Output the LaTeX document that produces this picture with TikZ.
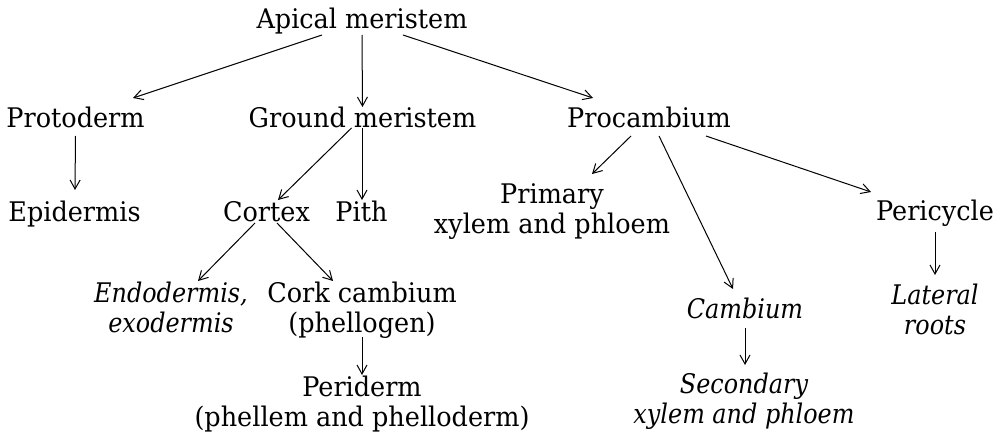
\documentclass[tikz,border=0pt]{standalone}
\usepackage{fontspec}
\setmainfont{DejaVu Serif}[FakeStretch=0.945,ItalicFeatures={FakeStretch=0.885}]
\usetikzlibrary{arrows.meta}
\begin{document}
\begin{tikzpicture}[x=1pt,y=-1pt,
  lbl/.style={inner sep=0pt, anchor=base, align=center, font=\fontsize{27}{30}\selectfont},
  itl/.style={lbl, font=\fontsize{27}{30}\selectfont\itshape},
  arr/.style={line width=1pt, -{Straight Barb[length=9pt,width=10pt]}}]
\useasboundingbox (0,0) rectangle (1003,438);
\node[lbl] (apical) at (362,29) {Apical meristem};
\node[lbl] (proto) at (75.5,128) {Protoderm};
\node[lbl] (ground) at (362.5,128) {Ground meristem};
\node[lbl] (procamb) at (649,128) {Procambium};
\node[lbl] (epid) at (74.5,222) {Epidermis};
\node[lbl] (cortex) at (266.5,222) {Cortex};
\node[lbl] (pith) at (361.5,222) {Pith};
\node[lbl] (primary) at (552,234) {Primary\\xylem and phloem};
\node[lbl] (peri) at (935,221) {Pericycle};
\node[itl] (endo) at (171,332) {Endodermis,\\exodermis};
\node[lbl] (cork) at (362,332) {Cork cambium\\(phellogen)};
\node[itl] (lateral) at (935,334) {Lateral\\roots};
\node[itl] (camb) at (745,318) {Cambium};
\node[lbl] (periderm) at (362,426) {Periderm\\(phellem and phelloderm)};
\node[itl] (second) at (744,423) {Secondary\\xylem and phloem};

\draw[arr] ([shift={(-40,6)}]apical.base) -- ([shift={(57.5,-30)}]proto.base);
\draw[arr] ([shift={(0,6)}]apical.base) -- ([shift={(0,-21)}]ground.base);
\draw[arr] ([shift={(41,6)}]apical.base) -- ([shift={(-56,-30)}]procamb.base);
\draw[arr] ([shift={(0,8)}]proto.base) -- ([shift={(0.5,-32)}]epid.base);
\draw[arr] ([shift={(-11,0)}]ground.base) -- ([shift={(11.5,-22)}]cortex.base);
\draw[arr] ([shift={(-0.5,0)}]ground.base) -- ([shift={(0.5,-22)}]pith.base);
\draw[arr] ([shift={(-18,8)}]procamb.base) -- ([shift={(40,-60)}]primary.base);
\draw[arr] ([shift={(10,8)}]procamb.base) -- ([shift={(-12,-29)}]camb.base);
\draw[arr] ([shift={(57,8)}]procamb.base) -- ([shift={(-64,-29)}]peri.base);
\draw[arr] ([shift={(-11.5,1)}]cortex.base) -- ([shift={(27,-51)}]endo.base);
\draw[arr] ([shift={(10.5,1)}]cortex.base) -- ([shift={(-29,-51)}]cork.base);
\draw[arr] ([shift={(0,11)}]peri.base) -- ([shift={(0,-59)}]lateral.base);
\draw[arr] ([shift={(0,5)}]cork.base) -- ([shift={(0,-51)}]periderm.base);
\draw[arr] ([shift={(0,10)}]camb.base) -- ([shift={(1,-58)}]second.base);
\end{tikzpicture}
\end{document}
